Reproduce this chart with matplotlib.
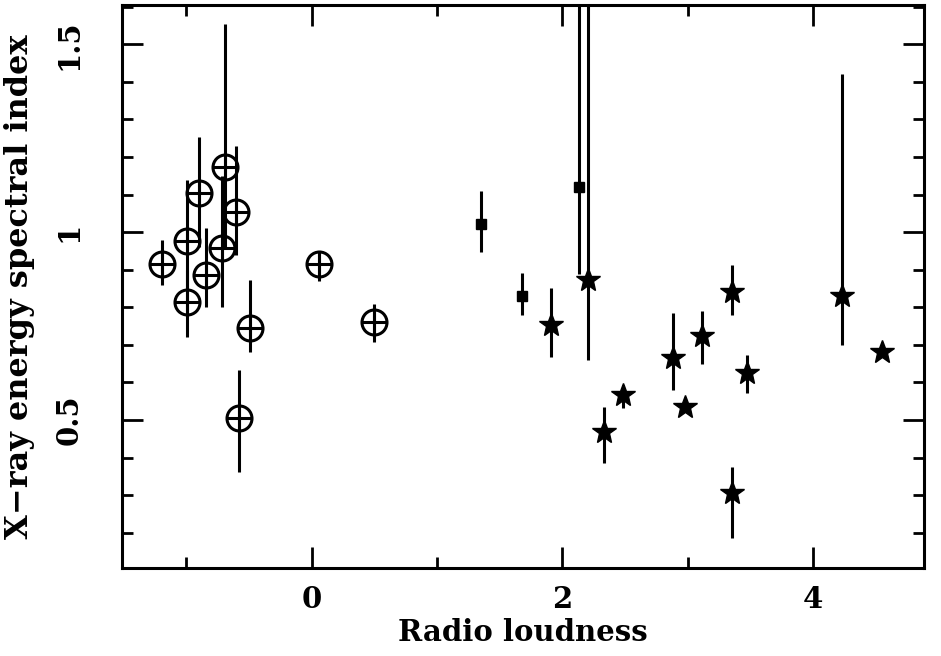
import numpy as np
import matplotlib.pyplot as plt
from matplotlib.ticker import MultipleLocator

# radio-quiet objects (open circle with cross)
circ_x = [-1.19, -0.99, -0.99, -0.90, -0.84, -0.71, -0.69, -0.60, -0.49, -0.58, 0.06, 0.50]
circ_y = [0.915, 0.976, 0.814, 1.104, 0.885, 0.957, 1.174, 1.055, 0.745, 0.505, 0.915, 0.760]
circ_lo = [0.86, 0.85, 0.72, 0.96, 0.80, 0.80, 0.96, 0.94, 0.68, 0.362, 0.87, 0.707]
circ_hi = [0.98, 1.14, 0.90, 1.253, 1.01, 1.15, 1.553, 1.23, 0.872, 0.633, 0.95, 0.81]

# small filled squares
sq_x = [1.35, 1.68, 2.13]
sq_y = [1.021, 0.830, 1.120]
sq_lo = [0.947, 0.78, 0.89]
sq_hi = [1.11, 0.891, 1.80]

# radio-loud objects (stars)
star_x = [1.91, 2.20, 2.33, 2.48, 2.88, 2.98, 3.11, 3.35, 3.47, 3.35, 4.23, 4.55]
star_y = [0.753, 0.872, 0.468, 0.566, 0.665, 0.535, 0.723, 0.840, 0.625, 0.306, 0.830, 0.681]
star_lo = [0.668, 0.66, 0.386, 0.532, 0.58, 0.535, 0.65, 0.779, 0.572, 0.186, 0.70, 0.681]
star_hi = [0.851, 1.80, 0.535, 0.593, 0.784, 0.535, 0.79, 0.912, 0.673, 0.375, 1.42, 0.681]

plt.rcParams['font.family'] = 'DejaVu Serif'
plt.rcParams['font.weight'] = 'bold'

fig = plt.figure(figsize=(9.41, 6.56), dpi=100)
ax = fig.add_axes([0.1297, 0.134, 0.852, 0.858])


def bars(x, y, lo, hi):
    y = np.array(y)
    yerr = [y - np.array(lo), np.array(hi) - y]
    ax.errorbar(x, y, yerr=yerr, fmt='none', ecolor='black', elinewidth=2.2, capsize=0)


bars(circ_x, circ_y, circ_lo, circ_hi)
bars(sq_x, sq_y, sq_lo, sq_hi)
bars(star_x, star_y, star_lo, star_hi)

ax.plot(circ_x, circ_y, 'o', ms=18, mfc='none', mec='black', mew=2.2, ls='none')
ax.plot(circ_x, circ_y, '+', ms=18, mec='black', mew=2.2, ls='none')
ax.plot(sq_x, sq_y, 's', ms=7, color='black', ls='none')
ax.plot(star_x, star_y, '*', ms=18, color='black', ls='none')

ax.set_xlim(-1.51, 4.88)
ax.set_ylim(0.106, 1.604)

ax.xaxis.set_minor_locator(MultipleLocator(1))
ax.yaxis.set_minor_locator(MultipleLocator(0.1))
ax.set_xticks([0, 2, 4])
ax.set_xticklabels(['0', '2', '4'])
ax.set_yticks([0.5, 1.0, 1.5])
ax.set_yticklabels(['0.5', '1', '1.5'], rotation=90, va='center')

ax.tick_params(which='both', direction='in', top=True, right=True, width=2, labelsize=21)
ax.tick_params(which='major', length=15)
ax.tick_params(which='minor', length=8)
ax.tick_params(axis='x', which='major', pad=12)
ax.tick_params(axis='y', which='major', pad=28)
for s in ax.spines.values():
    s.set_linewidth(2.2)

ax.set_xlabel('Radio loudness', fontsize=21, fontweight='bold', labelpad=3)
ax.set_ylabel('X\u2212ray energy spectral index', fontsize=23, fontweight='bold', labelpad=14)

fig.savefig('out.png', dpi=100)
